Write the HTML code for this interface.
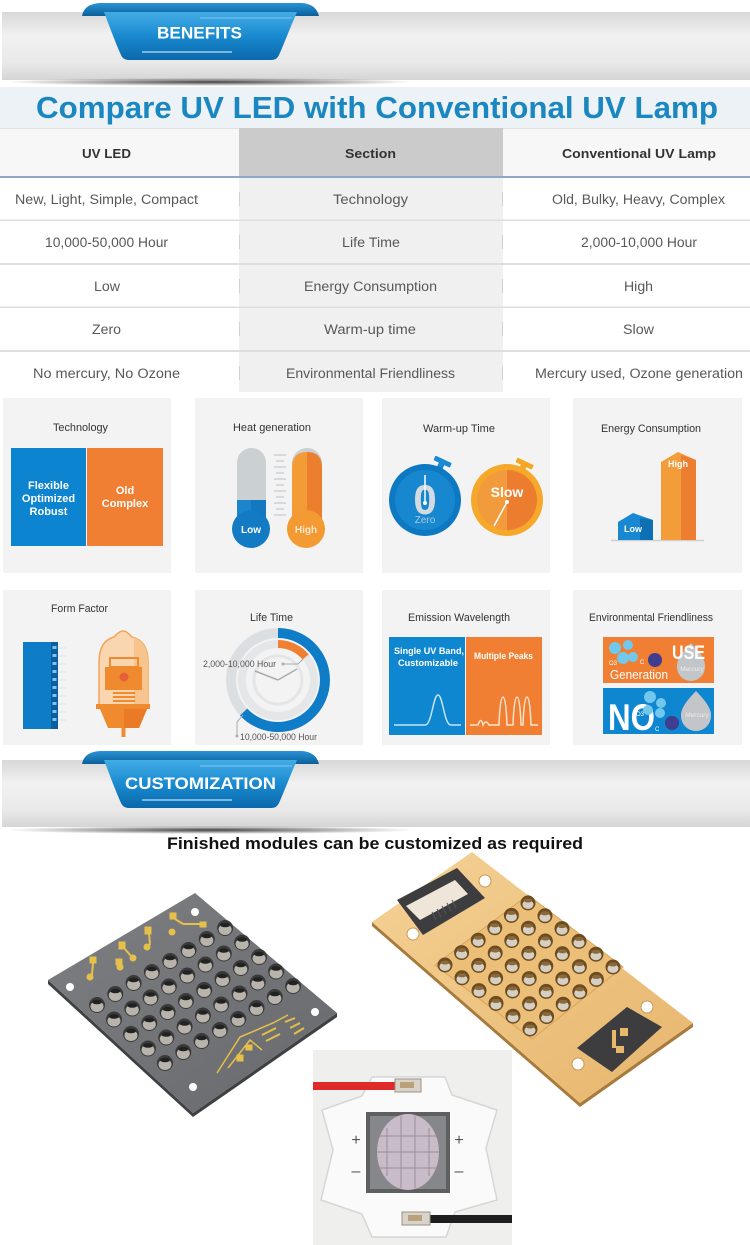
<!DOCTYPE html>
<html><head><meta charset="utf-8"><style>
html,body{margin:0;padding:0;background:#fff;}
svg{display:block;}
text{font-family:"Liberation Sans",sans-serif;}
</style></head><body>
<svg width="750" height="1245" viewBox="0 0 750 1245" xmlns="http://www.w3.org/2000/svg">
<defs>
 <linearGradient id="bar" x1="0" y1="0" x2="0" y2="1">
  <stop offset="0" stop-color="#d8d8d8"/>
  <stop offset="0.35" stop-color="#f1f1f1"/>
  <stop offset="0.75" stop-color="#e9e9e9"/>
  <stop offset="1" stop-color="#d5d5d5"/>
 </linearGradient>
 <linearGradient id="rib" x1="0" y1="0" x2="0" y2="1">
  <stop offset="0" stop-color="#42ace5"/>
  <stop offset="0.5" stop-color="#1a8ad0"/>
  <stop offset="1" stop-color="#0a68ab"/>
 </linearGradient>
 <linearGradient id="curl" x1="0" y1="0" x2="0" y2="1">
  <stop offset="0" stop-color="#2a94d6"/>
  <stop offset="1" stop-color="#0b5f9b"/>
 </linearGradient>
 <radialGradient id="shd" cx="0.5" cy="0.5" r="0.5">
  <stop offset="0" stop-color="#222" stop-opacity="0.85"/>
  <stop offset="1" stop-color="#222" stop-opacity="0"/>
 </radialGradient>
 <linearGradient id="gold" x1="0" y1="0" x2="1" y2="1">
  <stop offset="0" stop-color="#f5d296"/>
  <stop offset="1" stop-color="#e6b56c"/>
 </linearGradient>
 <linearGradient id="grayb" x1="0" y1="0" x2="1" y2="1">
  <stop offset="0" stop-color="#7d7f82"/>
  <stop offset="1" stop-color="#67696c"/>
 </linearGradient>
 <g id="gled"><circle r="7.5" fill="#6e4c20"/><ellipse cx="0" cy="1.5" rx="5.5" ry="4.5" fill="#d6cfc3"/><ellipse cx="0" cy="-2.5" rx="4.5" ry="2" fill="#8a6a3a"/></g>
 <g id="sled"><circle r="8" fill="#3a3a3a"/><ellipse cy="1.5" rx="6.5" ry="5.5" fill="#b9b4ab"/><ellipse cy="-3" rx="5" ry="2.3" fill="#222"/></g>
</defs>

<!-- BENEFITS banner -->
<rect x="2" y="12" width="748" height="68" fill="url(#bar)"/>
<ellipse cx="210" cy="82" rx="205" ry="4" fill="url(#shd)"/>
<path d="M82,16 Q84,4 100,3 L302,3 Q316,4 319,16 Z" fill="url(#curl)"/>
<path d="M104,12 L297,12 C290,28 284,44 279,55 Q277,60 271,60 L129,60 Q123,60 121,55 C116,44 110,28 104,12 Z" fill="url(#rib)"/>
<line x1="200" y1="18" x2="292" y2="18" stroke="#9fd4f3" stroke-width="1" opacity="0.7"/>
<line x1="142" y1="52" x2="232" y2="52" stroke="#bfe6fb" stroke-width="1.5" opacity="0.8"/>
<text x="199.5" y="38.5" font-size="17" font-weight="bold" fill="#fff" text-anchor="middle" textLength="85" lengthAdjust="spacingAndGlyphs">BENEFITS</text>

<!-- Title -->
<rect x="0" y="87" width="750" height="41" fill="#edf2f6"/>
<text x="377" y="118" font-size="31" font-weight="bold" fill="#1a87c1" text-anchor="middle" textLength="682" lengthAdjust="spacingAndGlyphs">Compare UV LED with Conventional UV Lamp</text>

<!-- Table header -->
<rect x="0" y="128" width="750" height="49" fill="#f7f7f7"/>
<line x1="0" y1="128.5" x2="750" y2="128.5" stroke="#e2e2e2"/>
<rect x="239" y="128" width="264" height="49" fill="#cbcbcb"/>
<rect x="239" y="177" width="264" height="215" fill="#f0f0f0"/>
<rect x="0" y="176" width="750" height="2" fill="#8ea8c6"/>
<text x="106.5" y="158" font-size="13" font-weight="bold" fill="#333" text-anchor="middle" textLength="49" lengthAdjust="spacingAndGlyphs">UV LED</text>
<text x="370.5" y="158" font-size="13" font-weight="bold" fill="#333" text-anchor="middle" textLength="51" lengthAdjust="spacingAndGlyphs">Section</text>
<text x="639" y="158" font-size="13" font-weight="bold" fill="#333" text-anchor="middle" textLength="154" lengthAdjust="spacingAndGlyphs">Conventional UV Lamp</text>

<!-- rows lines -->
<g fill="#dedede">
<rect x="0" y="219.5" width="750" height="1.5"/>
<rect x="0" y="263" width="750" height="2"/>
<rect x="0" y="306.5" width="750" height="1.5"/>
<rect x="0" y="350" width="750" height="2"/>
</g>
<g stroke="#d2d2d2" stroke-width="1">
<line x1="239.5" y1="192" x2="239.5" y2="206"/><line x1="502.5" y1="192" x2="502.5" y2="206"/>
<line x1="239.5" y1="235" x2="239.5" y2="249"/><line x1="502.5" y1="235" x2="502.5" y2="249"/>
<line x1="239.5" y1="279" x2="239.5" y2="293"/><line x1="502.5" y1="279" x2="502.5" y2="293"/>
<line x1="239.5" y1="322" x2="239.5" y2="336"/><line x1="502.5" y1="322" x2="502.5" y2="336"/>
<line x1="239.5" y1="366" x2="239.5" y2="380"/><line x1="502.5" y1="366" x2="502.5" y2="380"/>
</g>
<g font-size="13.5" fill="#585858" text-anchor="middle">
<text x="106.5" y="204" textLength="183" lengthAdjust="spacingAndGlyphs">New, Light, Simple, Compact</text>
<text x="370.5" y="204" textLength="75" lengthAdjust="spacingAndGlyphs">Technology</text>
<text x="638.5" y="204" textLength="173" lengthAdjust="spacingAndGlyphs">Old, Bulky, Heavy, Complex</text>
<text x="106.5" y="247" textLength="123" lengthAdjust="spacingAndGlyphs">10,000-50,000 Hour</text>
<text x="371" y="247" textLength="58" lengthAdjust="spacingAndGlyphs">Life Time</text>
<text x="639" y="247" textLength="116" lengthAdjust="spacingAndGlyphs">2,000-10,000 Hour</text>
<text x="107" y="291" textLength="26" lengthAdjust="spacingAndGlyphs">Low</text>
<text x="370.5" y="291" textLength="133" lengthAdjust="spacingAndGlyphs">Energy Consumption</text>
<text x="638.5" y="291" textLength="29" lengthAdjust="spacingAndGlyphs">High</text>
<text x="106.5" y="334" textLength="29" lengthAdjust="spacingAndGlyphs">Zero</text>
<text x="370" y="334" textLength="92" lengthAdjust="spacingAndGlyphs">Warm-up time</text>
<text x="638.5" y="334" textLength="31" lengthAdjust="spacingAndGlyphs">Slow</text>
<text x="106.5" y="378" textLength="147" lengthAdjust="spacingAndGlyphs">No mercury, No Ozone</text>
<text x="370.5" y="378" textLength="169" lengthAdjust="spacingAndGlyphs">Environmental Friendliness</text>
<text x="639" y="378" textLength="208" lengthAdjust="spacingAndGlyphs">Mercury used, Ozone generation</text>
</g>

<!-- Panels -->
<g fill="#f3f3f3">
<rect x="3" y="398" width="168" height="175"/>
<rect x="195" y="398" width="168" height="175"/>
<rect x="382" y="398" width="168" height="175"/>
<rect x="573" y="398" width="169" height="175"/>
<rect x="3" y="590" width="168" height="155"/>
<rect x="195" y="590" width="168" height="155"/>
<rect x="382" y="590" width="168" height="155"/>
<rect x="573" y="590" width="169" height="155"/>
</g>
<g font-size="11" fill="#333" text-anchor="middle">
<text x="80.5" y="431" textLength="55" lengthAdjust="spacingAndGlyphs">Technology</text>
<text x="272" y="431" textLength="78" lengthAdjust="spacingAndGlyphs">Heat generation</text>
<text x="459" y="432" textLength="72" lengthAdjust="spacingAndGlyphs">Warm-up Time</text>
<text x="651" y="432" textLength="100" lengthAdjust="spacingAndGlyphs">Energy Consumption</text>
<text x="79.5" y="612" textLength="57" lengthAdjust="spacingAndGlyphs">Form Factor</text>
<text x="271.5" y="621" textLength="43" lengthAdjust="spacingAndGlyphs">Life Time</text>
<text x="459" y="621" textLength="102" lengthAdjust="spacingAndGlyphs">Emission Wavelength</text>
<text x="651" y="621" textLength="124" lengthAdjust="spacingAndGlyphs">Environmental Friendliness</text>
</g>

<!-- Panel 1: Technology -->
<rect x="11" y="448" width="75" height="98" fill="#0c84cf"/>
<rect x="87" y="448" width="76" height="98" fill="#f07f33"/>
<g font-size="11" font-weight="bold" fill="#fff" text-anchor="middle">
<text x="48.5" y="489">Flexible</text>
<text x="48.5" y="502">Optimized</text>
<text x="48.5" y="515">Robust</text>
<text x="125" y="494">Old</text>
<text x="125" y="507">Complex</text>
</g>

<!-- Panel 2: Heat generation -->
<rect x="237" y="448" width="29" height="84" rx="14.5" fill="#cbd0d3"/>
<rect x="237" y="500" width="29" height="30" fill="#1478c0"/>
<rect x="237" y="500" width="14" height="30" fill="#1b86cc"/>
<circle cx="251" cy="529" r="19" fill="#137ac4"/>
<text x="251" y="533" font-size="10" font-weight="bold" fill="#fff" text-anchor="middle">Low</text>
<rect x="292" y="448" width="30" height="84" rx="15" fill="#cbd0d3"/>
<path d="M292,468 Q292,452 307,452 Q322,452 322,468 L322,530 L292,530 Z" fill="#f39c35"/>
<path d="M307,452 Q322,452 322,468 L322,530 L307,530 Z" fill="#ec7f2e"/>
<circle cx="306" cy="529" r="19" fill="#f39a32"/>
<text x="306" y="533" font-size="10" font-weight="bold" fill="#fde7cc" text-anchor="middle">High</text>
<g stroke="#cdd2d5" stroke-width="1.5">
<line x1="274" y1="455" x2="286" y2="455"/><line x1="276" y1="461" x2="284" y2="461"/>
<line x1="274" y1="467" x2="286" y2="467"/><line x1="276" y1="473" x2="284" y2="473"/>
<line x1="274" y1="479" x2="286" y2="479"/><line x1="276" y1="485" x2="284" y2="485"/>
<line x1="274" y1="491" x2="286" y2="491"/><line x1="276" y1="497" x2="284" y2="497"/>
<line x1="274" y1="503" x2="286" y2="503"/><line x1="276" y1="509" x2="284" y2="509"/>
<line x1="274" y1="515" x2="286" y2="515"/>
</g>

<!-- Panel 3: Warm-up -->
<g transform="rotate(25 442 463)"><rect x="433" y="459" width="18" height="5" rx="1" fill="#1b8ad3"/><rect x="439" y="463" width="6" height="6" fill="#1b8ad3"/></g>
<circle cx="425" cy="500" r="36" fill="#0e79c3"/>
<circle cx="425" cy="500" r="30" fill="#1787d0"/>
<text x="425" y="514" font-size="42" font-weight="bold" fill="#d3dbe1" text-anchor="middle">0</text>
<line x1="425" y1="475" x2="425" y2="503" stroke="#fff" stroke-width="1.5"/>
<circle cx="425" cy="503" r="2" fill="#fff"/>
<text x="425" y="523" font-size="10" fill="#a9cbe6" text-anchor="middle">Zero</text>
<g transform="rotate(25 524 465)"><rect x="515" y="461" width="18" height="5" rx="1" fill="#f5a623"/><rect x="521" y="465" width="6" height="6" fill="#f5a623"/></g>
<circle cx="507" cy="500" r="36" fill="#f6a82a"/>
<circle cx="507" cy="500" r="30" fill="#f29b3c"/>
<path d="M507,470 A30,30 0 0 1 507,530 Z" fill="#ec7d2e"/>
<text x="507" y="497" font-size="14" font-weight="bold" fill="#fff" text-anchor="middle">Slow</text>
<line x1="507" y1="502" x2="494" y2="526" stroke="#fff" stroke-width="1.5"/>
<circle cx="507" cy="502" r="2" fill="#fff"/>

<!-- Panel 4: Energy -->
<line x1="611" y1="540.5" x2="704" y2="540.5" stroke="#cfcfcf" stroke-width="1.5"/>
<polygon points="618,522 633,513 653,520 653,540 618,540" fill="#1888d2"/>
<polygon points="640,518 653,520 653,540 640,540" fill="#0f6fb3"/>
<text x="633" y="532" font-size="9" font-weight="bold" fill="#fff" text-anchor="middle">Low</text>
<polygon points="661,462 678,452 696,460 696,540 661,540" fill="#f39c3a"/>
<polygon points="681,455 696,460 696,540 681,540" fill="#ed7e2f"/>
<text x="678" y="467" font-size="9" font-weight="bold" fill="#fff" text-anchor="middle">High</text>

<!-- Row2 Panel1: Form Factor -->
<g stroke="#bfe2f7" stroke-width="0.8" opacity="0.8">
<line x1="58" y1="648" x2="66" y2="648"/><line x1="58" y1="656" x2="66" y2="656"/><line x1="58" y1="664" x2="66" y2="664"/><line x1="58" y1="672" x2="66" y2="672"/><line x1="58" y1="680" x2="66" y2="680"/><line x1="58" y1="688" x2="66" y2="688"/><line x1="58" y1="696" x2="66" y2="696"/><line x1="58" y1="704" x2="66" y2="704"/><line x1="58" y1="712" x2="66" y2="712"/><line x1="58" y1="720" x2="66" y2="720"/>
</g>
<rect x="23" y="642" width="35" height="87" fill="#0e7cc7"/>
<rect x="51" y="642" width="7" height="87" fill="#0b5e9e"/>
<g fill="#7cc2ec">
<rect x="52.5" y="646" width="4" height="3"/><rect x="52.5" y="654" width="4" height="3"/><rect x="52.5" y="662" width="4" height="3"/><rect x="52.5" y="670" width="4" height="3"/><rect x="52.5" y="678" width="4" height="3"/><rect x="52.5" y="686" width="4" height="3"/><rect x="52.5" y="694" width="4" height="3"/><rect x="52.5" y="702" width="4" height="3"/><rect x="52.5" y="710" width="4" height="3"/><rect x="52.5" y="718" width="4" height="3"/>
</g>
<path d="M99,705 L99,662 Q99,641 114,637 Q119,631 123,631 Q127,631 132,637 Q148,641 148,662 L148,705 Z" fill="#f9d6b0" stroke="#f2a45a" stroke-width="1.5"/>
<path d="M132,637 Q148,641 148,662 L148,705 L134,705 L134,640 Z" fill="#f6c48c"/>
<rect x="110" y="658" width="28" height="9" fill="none" stroke="#f08a2f" stroke-width="2"/>
<rect x="105" y="667" width="37" height="23" fill="#f08a2f"/>
<circle cx="124" cy="677" r="4.5" fill="#e5603a"/>
<g stroke="#f08a2f" stroke-width="2"><line x1="113" y1="693" x2="135" y2="693"/><line x1="113" y1="697" x2="135" y2="697"/><line x1="113" y1="701" x2="135" y2="701"/><line x1="113" y1="705" x2="135" y2="705"/></g>
<rect x="96" y="704" width="54" height="5" fill="#f08a2f"/>
<polygon points="100,709 147,709 139,728 108,728" fill="#f08a2f"/>
<polygon points="124,709 147,709 139,728 124,728" fill="#ea7a26"/>
<rect x="121.5" y="728" width="4" height="9" fill="#f08a2f"/>

<!-- Row2 Panel2: Life Time -->
<circle cx="278" cy="680" r="47" fill="none" stroke="#dcdfe1" stroke-width="10"/>
<path d="M278,633 A47,47 0 1 1 243.6,712.1" fill="none" stroke="#0e7cc7" stroke-width="10"/>
<circle cx="278" cy="680" r="36" fill="none" stroke="#e4e6e8" stroke-width="8"/>
<path d="M278,644 A36,36 0 0 1 305.6,656.9" fill="none" stroke="#f07f33" stroke-width="8"/>
<circle cx="278" cy="680" r="24" fill="none" stroke="#e3e5e6" stroke-width="3"/>
<line x1="278" y1="680" x2="255" y2="671" stroke="#a7adb1" stroke-width="1.5"/>
<line x1="278" y1="680" x2="297" y2="669" stroke="#a7adb1" stroke-width="1.5"/>
<polyline points="283,664 298,664 303,659" fill="none" stroke="#a7adb1" stroke-width="1"/>
<circle cx="283" cy="664" r="1.5" fill="#a7adb1"/>
<text x="203" y="667" font-size="9" fill="#555" textLength="73" lengthAdjust="spacingAndGlyphs">2,000-10,000 Hour</text>
<polyline points="243,715 237,722 237,736" fill="none" stroke="#a7adb1" stroke-width="1"/>
<circle cx="237" cy="736" r="1.5" fill="#a7adb1"/>
<text x="240" y="740" font-size="9" fill="#555" textLength="77" lengthAdjust="spacingAndGlyphs">10,000-50,000 Hour</text>

<!-- Row2 Panel3: Emission -->
<rect x="389" y="637" width="76" height="98" fill="#0e86d0"/>
<rect x="466" y="637" width="76" height="98" fill="#f07f33"/>
<g font-size="9.5" font-weight="bold" fill="#fff" text-anchor="middle">
<text x="429" y="654" textLength="70" lengthAdjust="spacingAndGlyphs">Single UV Band,</text>
<text x="428" y="666" textLength="60" lengthAdjust="spacingAndGlyphs">Customizable</text>
<text x="503.5" y="659" textLength="59" lengthAdjust="spacingAndGlyphs">Multiple Peaks</text>
</g>
<path d="M394,725 L425,725 C432,725 433,695 438,695 C443,695 444,725 451,725 L461,725" fill="none" stroke="#c3e5f8" stroke-width="1.5"/>
<path d="M470,725 L478,725 Q481,716 483,725 Q486,719 489,725 L499,725 Q500,697 503,697 Q506,697 507,725 L513,725 Q514,697 517,697 Q520,697 521,725 L523,725 Q524,697 527,697 Q530,697 531,725 L538,725" fill="none" stroke="#fde3cc" stroke-width="1.5"/>

<!-- Row2 Panel4: Env -->
<rect x="603" y="637" width="111" height="46" fill="#f07f33"/>
<rect x="603" y="688" width="111" height="46" fill="#0e86d0"/>
<g fill="#72c7ec">
<circle cx="615" cy="648" r="6"/><circle cx="628" cy="645" r="5"/><circle cx="623" cy="658" r="6"/><circle cx="633" cy="657" r="5"/>
</g>
<circle cx="655" cy="660" r="7" fill="#3f3d8f"/>
<text x="609" y="665" font-size="6" fill="#fff">O3</text>
<text x="640" y="664" font-size="6" fill="#fff">C</text>
<path d="M691,643 Q706,658 705,667 A14,14 0 1 1 677,667 Q676,658 691,643 Z" fill="#c3c6c9"/>
<text x="672" y="659" font-size="19" font-weight="bold" fill="#fff" textLength="33" lengthAdjust="spacingAndGlyphs">USE</text>
<text x="692" y="671" font-size="6.5" fill="#eaeaea" text-anchor="middle">Mercury</text>
<text x="610" y="679" font-size="13" fill="#fff" textLength="58" lengthAdjust="spacingAndGlyphs">Generation</text>
<text x="608" y="730" font-size="37" font-weight="bold" fill="#fff" textLength="47" lengthAdjust="spacingAndGlyphs">NO</text>
<g fill="#72c7ec">
<circle cx="650" cy="697" r="6"/><circle cx="661" cy="703" r="5"/><circle cx="648" cy="710" r="5"/><circle cx="660" cy="713" r="5"/>
</g>
<circle cx="672" cy="723" r="7" fill="#3f3d8f"/>
<path d="M696,691 Q712,707 711,716 A15,15 0 1 1 681,716 Q680,707 696,691 Z" fill="#c3c6c9"/>
<text x="697" y="717" font-size="6.5" fill="#eaeaea" text-anchor="middle">Mercury</text>
<text x="636" y="716" font-size="6" fill="#fff">O3</text>
<text x="655" y="731" font-size="6" fill="#fff">C</text>

<!-- CUSTOMIZATION banner -->
<rect x="2" y="760" width="748" height="67" fill="url(#bar)"/>
<ellipse cx="210" cy="830" rx="205" ry="4" fill="url(#shd)"/>
<path d="M82,764 Q84,752 100,751 L302,751 Q316,752 319,764 Z" fill="url(#curl)"/>
<path d="M104,760 L297,760 C290,776 284,792 279,803 Q277,808 271,808 L129,808 Q123,808 121,803 C116,792 110,776 104,760 Z" fill="url(#rib)"/>
<line x1="200" y1="766" x2="292" y2="766" stroke="#9fd4f3" stroke-width="1" opacity="0.7"/>
<line x1="142" y1="800" x2="232" y2="800" stroke="#bfe6fb" stroke-width="1.5" opacity="0.8"/>
<text x="200.5" y="789" font-size="17" font-weight="bold" fill="#fff" text-anchor="middle" textLength="151" lengthAdjust="spacingAndGlyphs">CUSTOMIZATION</text>

<text x="375" y="849" font-size="17" font-weight="bold" fill="#111" text-anchor="middle" textLength="416" lengthAdjust="spacingAndGlyphs">Finished modules can be customized as required</text>

<!-- Gray board -->
<polygon points="48,980 48,984 193,1117 337,1017 337,1013 193,1113" fill="#3f4042"/>
<polygon points="48,980 195,893 337,1013 193,1113" fill="url(#grayb)"/>
<g fill="#fff">
<circle cx="70" cy="987" r="4"/><circle cx="195" cy="912" r="4"/><circle cx="315" cy="1012" r="4"/><circle cx="193" cy="1087" r="4"/>
</g>
<g fill="#e6c04a" stroke="#e6c04a">
<rect x="90" y="957" width="6" height="6"/><circle cx="90" cy="977" r="3"/><line x1="93" y1="963" x2="92" y2="975" stroke-width="2"/>
<rect x="116" y="959" width="6" height="6"/><circle cx="120" cy="967" r="3"/>
<rect x="119" y="942" width="6" height="7"/><circle cx="133" cy="958" r="3"/><line x1="124" y1="948" x2="131" y2="956" stroke-width="2"/>
<rect x="145" y="927" width="6" height="7"/><circle cx="147" cy="947" r="3"/><line x1="149" y1="933" x2="150" y2="945" stroke-width="2"/>
<rect x="170" y="913" width="6" height="6"/><circle cx="172" cy="932" r="3"/><line x1="175" y1="919" x2="183" y2="924" stroke-width="2"/>
<rect x="200" y="922" width="6" height="5"/><line x1="183" y1="924" x2="200" y2="924" stroke-width="2"/>
<polyline points="217,1073 240,1037 273,1023 288,1015" fill="none" stroke-width="1.5"/>
<polyline points="228,1068 250,1040 262,1050" fill="none" stroke-width="1.5"/>
<rect x="237" y="1055" width="6" height="6"/><rect x="246" y="1045" width="6" height="5"/>
<line x1="285" y1="1022" x2="295" y2="1018" stroke-width="2"/><line x1="290" y1="1028" x2="300" y2="1023" stroke-width="2"/><line x1="294" y1="1034" x2="304" y2="1028" stroke-width="2"/>
<line x1="262" y1="1035" x2="276" y2="1028" stroke-width="2"/><line x1="266" y1="1041" x2="280" y2="1034" stroke-width="2"/>
</g>
<g>
<use href="#sled" x="97" y="1005"/><use href="#sled" x="114" y="1019.5"/><use href="#sled" x="131" y="1034"/><use href="#sled" x="148" y="1048.5"/><use href="#sled" x="165" y="1063"/>
<use href="#sled" x="115.3" y="994"/><use href="#sled" x="132.3" y="1008.5"/><use href="#sled" x="149.3" y="1023"/><use href="#sled" x="166.3" y="1037.5"/><use href="#sled" x="183.3" y="1052"/>
<use href="#sled" x="133.6" y="983"/><use href="#sled" x="150.6" y="997.5"/><use href="#sled" x="167.6" y="1012"/><use href="#sled" x="184.6" y="1026.5"/><use href="#sled" x="201.6" y="1041"/>
<use href="#sled" x="151.9" y="972"/><use href="#sled" x="168.9" y="986.5"/><use href="#sled" x="185.9" y="1001"/><use href="#sled" x="202.9" y="1015.5"/><use href="#sled" x="219.9" y="1030"/>
<use href="#sled" x="170.2" y="961"/><use href="#sled" x="187.2" y="975.5"/><use href="#sled" x="204.2" y="990"/><use href="#sled" x="221.2" y="1004.5"/><use href="#sled" x="238.2" y="1019"/>
<use href="#sled" x="188.5" y="950"/><use href="#sled" x="205.5" y="964.5"/><use href="#sled" x="222.5" y="979"/><use href="#sled" x="239.5" y="993.5"/><use href="#sled" x="256.5" y="1008"/>
<use href="#sled" x="206.8" y="939"/><use href="#sled" x="223.8" y="953.5"/><use href="#sled" x="240.8" y="968"/><use href="#sled" x="257.8" y="982.5"/><use href="#sled" x="274.8" y="997"/>
<use href="#sled" x="225.1" y="928"/><use href="#sled" x="242.1" y="942.5"/><use href="#sled" x="259.1" y="957"/><use href="#sled" x="276.1" y="971.5"/><use href="#sled" x="293.1" y="986"/>
</g>

<!-- Gold board -->
<polygon points="372,922 372,926 580,1107 693,1027 693,1023 580,1103" fill="#a87a3c"/>
<polygon points="372,922 472,852 693,1023 580,1103" fill="url(#gold)"/>
<polygon points="397,900 457,868 485,898 423,935" fill="#3d3d3f"/>
<polygon points="406,906 455,880 468,894 420,920" fill="#efe5d8"/>
<g stroke="#555" stroke-width="1"><line x1="432" y1="912" x2="436" y2="920"/><line x1="437" y1="909" x2="441" y2="917"/><line x1="442" y1="906" x2="446" y2="914"/><line x1="447" y1="903" x2="451" y2="911"/><line x1="452" y1="900" x2="456" y2="908"/></g>
<polygon points="577,1048 627,1007 662,1027 612,1072" fill="#3d3d3f"/>
<g fill="#e8b86a"><rect x="612" y="1030" width="4" height="18"/><rect x="620" y="1028" width="8" height="8"/><rect x="616" y="1046" width="8" height="7"/></g>
<g fill="#fff" stroke="#c89a58" stroke-width="1">
<circle cx="485" cy="881" r="6"/><circle cx="413" cy="934" r="6"/><circle cx="647" cy="1007" r="6"/><circle cx="578" cy="1064" r="6"/>
</g>
<polygon points="435,965 528,895 623,967 532,1039" fill="#ecbf78" stroke="#d7a55c" stroke-width="1"/>
<g>
<use href="#gled" x="445" y="965"/><use href="#gled" x="462" y="977.8"/><use href="#gled" x="479" y="990.6"/><use href="#gled" x="496" y="1003.4"/><use href="#gled" x="513" y="1016.2"/><use href="#gled" x="530" y="1029"/>
<use href="#gled" x="461.6" y="952.6"/><use href="#gled" x="478.6" y="965.4"/><use href="#gled" x="495.6" y="978.2"/><use href="#gled" x="512.6" y="991"/><use href="#gled" x="529.6" y="1003.8"/><use href="#gled" x="546.6" y="1016.6"/>
<use href="#gled" x="478.2" y="940.2"/><use href="#gled" x="495.2" y="953"/><use href="#gled" x="512.2" y="965.8"/><use href="#gled" x="529.2" y="978.6"/><use href="#gled" x="546.2" y="991.4"/><use href="#gled" x="563.2" y="1004.2"/>
<use href="#gled" x="494.8" y="927.8"/><use href="#gled" x="511.8" y="940.6"/><use href="#gled" x="528.8" y="953.4"/><use href="#gled" x="545.8" y="966.2"/><use href="#gled" x="562.8" y="979"/><use href="#gled" x="579.8" y="991.8"/>
<use href="#gled" x="511.4" y="915.4"/><use href="#gled" x="528.4" y="928.2"/><use href="#gled" x="545.4" y="941"/><use href="#gled" x="562.4" y="953.8"/><use href="#gled" x="579.4" y="966.6"/><use href="#gled" x="596.4" y="979.4"/>
<use href="#gled" x="528" y="903"/><use href="#gled" x="545" y="915.8"/><use href="#gled" x="562" y="928.6"/><use href="#gled" x="579" y="941.4"/><use href="#gled" x="596" y="954.2"/><use href="#gled" x="613" y="967"/>
</g>

<!-- Star board photo -->
<rect x="313" y="1050" width="199" height="195" fill="#efefee"/>
<polygon points="372,1077 445,1077 452,1095 497,1110 486,1148 497,1200 455,1212 446,1237 372,1237 362,1214 321,1200 333,1150 322,1110 362,1096" fill="#fafafa" stroke="#d6d6d6" stroke-width="1.5" stroke-linejoin="round"/>
<rect x="313" y="1082" width="86" height="8" fill="#df2a2a"/>
<rect x="395" y="1079" width="26" height="13" fill="#d8d4cc" stroke="#9a9284" stroke-width="1"/>
<rect x="400" y="1082" width="14" height="6" fill="#b9a27a"/>
<rect x="430" y="1215" width="82" height="8" fill="#1e1e1e"/>
<rect x="402" y="1212" width="28" height="13" fill="#d8d4cc" stroke="#9a9284" stroke-width="1"/>
<rect x="408" y="1215" width="14" height="6" fill="#b9a27a"/>
<rect x="366" y="1112" width="84" height="81" fill="#5d5f61"/>
<rect x="370" y="1116" width="76" height="73" fill="#858789"/>
<ellipse cx="408" cy="1152" rx="31" ry="38" fill="#c8bcc8"/>
<g stroke="#9a8e9a" stroke-width="1">
<line x1="387" y1="1128" x2="387" y2="1176"/><line x1="401" y1="1116" x2="401" y2="1188"/><line x1="415" y1="1116" x2="415" y2="1188"/><line x1="429" y1="1128" x2="429" y2="1176"/>
<line x1="380" y1="1136" x2="436" y2="1136"/><line x1="377" y1="1152" x2="439" y2="1152"/><line x1="380" y1="1168" x2="436" y2="1168"/>
</g>
<g font-size="16" fill="#555" text-anchor="middle">
<text x="356" y="1145">+</text><text x="459" y="1145">+</text>
<text x="356" y="1176">–</text><text x="459" y="1176">–</text>
</g>
</svg>
</body></html>
